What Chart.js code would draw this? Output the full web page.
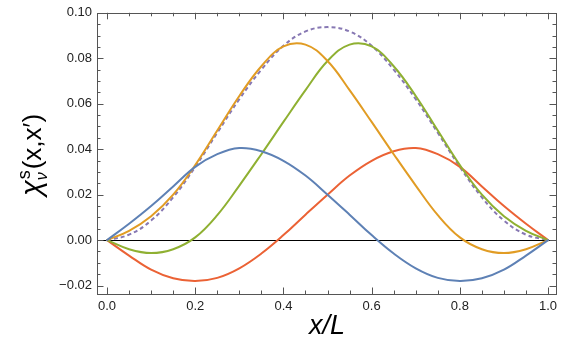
<!DOCTYPE html>
<html>
<head>
<meta charset="utf-8">
<script src="https://cdn.jsdelivr.net/npm/chart.js@4/dist/chart.umd.min.js"></script>
<style>
  html, body { margin: 0; padding: 0; background: #fff; }
  #wrap { width: 564px; height: 356px; position: relative; }
</style>
</head>
<body>
<div id="wrap"><canvas id="c" width="564" height="356"></canvas></div>
<script>
// ---- data ----
const xs = [0, 0.05, 0.10, 0.15, 0.20, 0.25, 0.30, 0.35, 0.40, 0.45, 0.50,
            0.55, 0.60, 0.65, 0.70, 0.75, 0.80, 0.85, 0.90, 0.95, 1.00];
const blue = [0, 0.0072, 0.0150, 0.0236, 0.0322, 0.0378, 0.0405, 0.0391, 0.0349, 0.0284, 0.0200,
              0.0112, 0.0022, -0.0059, -0.0124, -0.0166, -0.0180, -0.0168, -0.0130, -0.0068, 0];
const orange = [0, 0.0041, 0.0105, 0.0200, 0.0330, 0.0482, 0.0634, 0.0765, 0.0852, 0.0860, 0.0788,
                0.0660, 0.0520, 0.0378, 0.0240, 0.0110, 0.0012, -0.0040, -0.0057, -0.0040, 0];
const green = [0, -0.0040, -0.0057, -0.0040, 0.0012, 0.0110, 0.0240, 0.0378, 0.0520, 0.0660, 0.0788,
               0.0860, 0.0852, 0.0765, 0.0634, 0.0482, 0.0330, 0.0200, 0.0105, 0.0041, 0];
const red = [0, -0.0068, -0.0130, -0.0168, -0.0180, -0.0166, -0.0124, -0.0059, 0.0022, 0.0112, 0.0200,
             0.0284, 0.0349, 0.0391, 0.0405, 0.0378, 0.0322, 0.0236, 0.0150, 0.0072, 0];
const purple = [0, 0.0024, 0.0086, 0.0188, 0.0322, 0.0472, 0.0620, 0.0750, 0.0855, 0.0918, 0.0937,
                0.0918, 0.0855, 0.0750, 0.0620, 0.0472, 0.0322, 0.0188, 0.0086, 0.0024, 0];
const xTicks = [0.0, 0.2, 0.4, 0.6, 0.8, 1.0];
const yTicks = [-0.02, 0.00, 0.02, 0.04, 0.06, 0.08, 0.10];
const xMinor = 0.05, yMinor = 0.005;

const pts = arr => xs.map((x, i) => ({x: x, y: arr[i]}));
const mk = (arr, color, dash) => ({
  data: pts(arr), borderColor: color, borderWidth: 2, pointRadius: 0,
  borderDash: dash || [], tension: 0.4, fill: false, borderCapStyle: dash ? 'butt' : 'round'
});

const FONT = "'Liberation Sans', Arial, sans-serif";

const framePlugin = {
  id: 'frame',
  beforeDatasetsDraw(chart) {
    const {ctx, chartArea: a, scales: {x, y}} = chart;
    ctx.save();
    ctx.strokeStyle = '#000';
    ctx.lineWidth = 1;
    const y0 = Math.round(y.getPixelForValue(0)) + 0.5;
    ctx.beginPath(); ctx.moveTo(a.left, y0); ctx.lineTo(a.right, y0); ctx.stroke();
    ctx.restore();
  },
  afterDatasetsDraw(chart) {
    const {ctx, chartArea: a, scales: {x, y}} = chart;
    ctx.save();
    ctx.strokeStyle = '#555';
    ctx.lineWidth = 1;
    ctx.strokeRect(Math.round(a.left) + 0.5, Math.round(a.top) + 0.5,
                   Math.round(a.right - a.left), Math.round(a.bottom - a.top));
    ctx.beginPath();
    for (let v = 0; v <= 1.0001; v += xMinor) {
      const vv = Math.round(v * 100) / 100;
      const major = xTicks.some(t => Math.abs(t - vv) < 1e-6);
      const L = major ? 6.5 : 3.5;
      const px = Math.round(x.getPixelForValue(vv)) + 0.5;
      ctx.moveTo(px, a.bottom); ctx.lineTo(px, a.bottom - L);
      ctx.moveTo(px, a.top); ctx.lineTo(px, a.top + L);
    }
    for (let v = -0.02; v <= 0.1001; v += yMinor) {
      const vv = Math.round(v * 1000) / 1000;
      const major = yTicks.some(t => Math.abs(t - vv) < 1e-6);
      const L = major ? 6.5 : 3.5;
      const py = Math.round(y.getPixelForValue(vv)) + 0.5;
      ctx.moveTo(a.left, py); ctx.lineTo(a.left + L, py);
      ctx.moveTo(a.right, py); ctx.lineTo(a.right - L, py);
    }
    ctx.stroke();
    ctx.restore();
  },
  afterDraw(chart) {
    const {ctx, chartArea: a} = chart;
    ctx.save();
    ctx.fillStyle = '#000';
    ctx.font = "italic 27px " + FONT;
    ctx.textAlign = 'center';
    ctx.textBaseline = 'alphabetic';
    ctx.fillText('x/L', 327, 334);
    ctx.translate(41, 155);
    ctx.rotate(-Math.PI / 2);
    ctx.textAlign = 'left';
    ctx.font = "italic 29px " + FONT;
    const wChi = ctx.measureText('χ').width;
    ctx.font = "18px " + FONT;
    const wS = ctx.measureText('s').width;
    ctx.font = "italic 16px " + FONT;
    const wNu = ctx.measureText('ν').width;
    ctx.font = "26px " + FONT;
    const rest = '(x,x′)';
    const wRest = ctx.measureText(rest).width;
    const total = wChi + Math.max(wS, wNu) + 2 + wRest;
    let cx = -total / 2;
    ctx.font = "italic 29px " + FONT;
    ctx.fillText('χ', cx, 0);
    cx += wChi;
    ctx.font = "18px " + FONT;
    ctx.fillText('s', cx + 1, -11);
    ctx.font = "italic 16px " + FONT;
    ctx.fillText('ν', cx, 6);
    cx += Math.max(wS, wNu) + 2;
    ctx.font = "26px " + FONT;
    ctx.fillText(rest, cx, 0);
    ctx.restore();
  }
};

new Chart(document.getElementById('c'), {
  type: 'line',
  data: {
    datasets: [
      mk(blue, '#5E81B5'),
      mk(orange, '#E19C24'),
      mk(green, '#8FB032'),
      mk(red, '#EB6235'),
      mk(purple, '#8778B3', [4, 3])
    ]
  },
  options: {
    responsive: false,
    animation: false,
    layout: { padding: { left: 0, right: 8, top: 10, bottom: 0 } },
    plugins: { legend: { display: false }, tooltip: { enabled: false } },
    scales: {
      x: {
        type: 'linear', min: -0.0227, max: 1.018,
        afterBuildTicks: s => { s.ticks = xTicks.map(v => ({value: v})); },
        afterFit: s => { s.height = 62; },
        grid: { display: false, drawTicks: false },
        border: { display: false },
        ticks: { padding: 5, color: '#222', font: { family: FONT, size: 13 },
                 maxRotation: 0, autoSkip: false,
                 callback: v => Number(v).toFixed(1) }
      },
      y: {
        type: 'linear', min: -0.0237, max: 0.100,
        afterBuildTicks: s => { s.ticks = yTicks.map(v => ({value: v})); },
        afterFit: s => { s.width = 97; },
        grid: { display: false, drawTicks: false },
        border: { display: false },
        ticks: { padding: 5, color: '#222', font: { family: FONT, size: 13 },
                 autoSkip: false,
                 callback: v => { const t = Number(v).toFixed(2); return v < -1e-9 ? '\u2212' + t.slice(1) : t; } }
      }
    }
  },
  plugins: [framePlugin]
});
</script>
</body>
</html>
